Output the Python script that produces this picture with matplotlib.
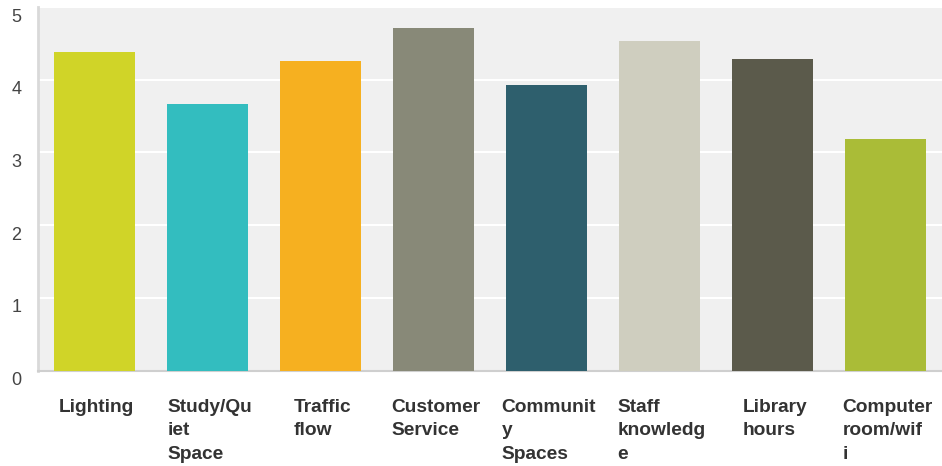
import matplotlib
matplotlib.use("Agg")
import matplotlib.pyplot as plt
import matplotlib.transforms as mtransforms

categories = ["Lighting", "Study/Qu\niet\nSpace", "Traffic\nflow", "Customer\nService",
              "Communit\ny\nSpaces", "Staff\nknowledg\ne", "Library\nhours", "Computer\nroom/wif\ni"]
values = [4.38, 3.67, 4.26, 4.71, 3.93, 4.53, 4.28, 3.18]
colors = ["#d0d428", "#33bdbf", "#f6b020", "#888978", "#2e5f6d", "#cfcebf", "#5b5a4b", "#aabc37"]
yticks = [0, 1, 2, 3, 4, 5]

plt.rcParams['font.family'] = ['Liberation Sans', 'DejaVu Sans']

W, H = 942, 466
fig = plt.figure(figsize=(W/100, H/100), dpi=100)
left, right, top, bottom = 38, 942, 7, 370.5
ax = fig.add_axes([left/W, (H-bottom)/H, (right-left)/W, (bottom-top)/H])
ax.set_facecolor("#f0f0f0")

x = list(range(len(categories)))
bw = 0.725
ax.bar(x, values, width=bw, color=colors, zorder=3)
ax.set_xlim(-0.5, len(categories)-0.5)
ax.set_ylim(0, 5)
ax.set_yticks(yticks)
ax.yaxis.grid(True, color="white", linewidth=1.5, zorder=1)
ax.set_axisbelow(True)
for s in ["top", "right"]:
    ax.spines[s].set_visible(False)
ax.spines["left"].set_color("#d9d9d9")
ax.spines["left"].set_linewidth(2)
ax.spines["bottom"].set_color("#cfcfcf")
ax.spines["bottom"].set_linewidth(1.5)
ax.tick_params(axis="y", length=0, labelsize=13, labelcolor="#444444", pad=12)
ax.tick_params(axis="x", length=0)
ax.set_xticks([])
ax.set_yticklabels([str(t) for t in yticks])
off = mtransforms.ScaledTranslation(0, -8/100, fig.dpi_scale_trans)
for lab in ax.get_yticklabels():
    lab.set_transform(lab.get_transform() + off)

for xi, lab in zip(x, categories):
    ax.text(xi + 0.02, -0.39, lab, ha="center", va="top", multialignment="left",
            fontsize=13.8, fontweight="bold", color="#333333", linespacing=1.5,
            transform=ax.transData, clip_on=False)

fig.savefig("out.png", dpi=100)
